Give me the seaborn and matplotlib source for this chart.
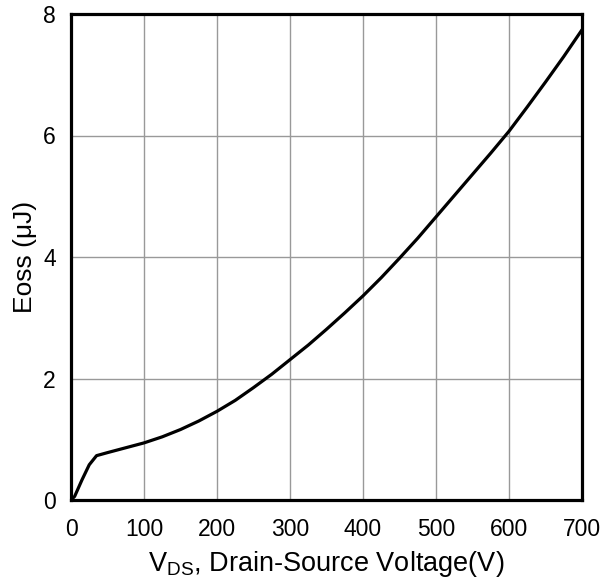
import matplotlib
matplotlib.use("Agg")
import matplotlib.pyplot as plt
import seaborn as sns
import pandas as pd

vds = [0, 5, 15, 25, 35, 50, 75, 100, 125, 150, 175, 200, 225, 250, 275, 300, 325, 350,
       375, 400, 425, 450, 475, 500, 525, 550, 575, 600, 625, 650, 675, 700]
eoss = [0, 0.06, 0.33, 0.58, 0.73, 0.78, 0.86, 0.94, 1.04, 1.16, 1.30, 1.46, 1.64, 1.85, 2.07, 2.31, 2.55, 2.81,
        3.08, 3.36, 3.66, 3.98, 4.31, 4.66, 5.01, 5.36, 5.71, 6.07, 6.47, 6.88, 7.30, 7.74]
x_ticks = [0, 100, 200, 300, 400, 500, 600, 700]
y_ticks = [0, 2, 4, 6, 8]

sns.set_theme(style="white")
plt.rcParams['font.family'] = ['Liberation Sans', 'DejaVu Sans']
plt.rcParams['mathtext.fontset'] = 'custom'
plt.rcParams['mathtext.rm'] = 'Liberation Sans'

df = pd.DataFrame({"VDS": vds, "Eoss": eoss})

fig = plt.figure(figsize=(6.04, 5.87), dpi=100)
ax = fig.add_axes([71/604, 87/587, 511/604, 486/587])
sns.lineplot(data=df, x="VDS", y="Eoss", ax=ax, color="black", linewidth=2.3, zorder=3)

ax.set_xlim(0, 700)
ax.set_ylim(0, 8)
ax.set_xticks(x_ticks)
ax.set_yticks(y_ticks)
ax.grid(True, color="#999999", linewidth=1.0)
for s in ax.spines.values():
    s.set_color("black")
    s.set_linewidth(2.3)
    s.set_visible(True)
ax.tick_params(axis="both", length=0, labelsize=16.5, colors="black")
ax.tick_params(axis="x", pad=13)
ax.tick_params(axis="y", pad=11)
ax.set_xlabel(r"V$_\mathregular{DS}$, Drain-Source Voltage(V)", fontsize=19.5, color="black", labelpad=6)
ax.set_ylabel("Eoss (μJ)", fontsize=19, color="black", labelpad=4)

fig.savefig("out.png", dpi=100)
